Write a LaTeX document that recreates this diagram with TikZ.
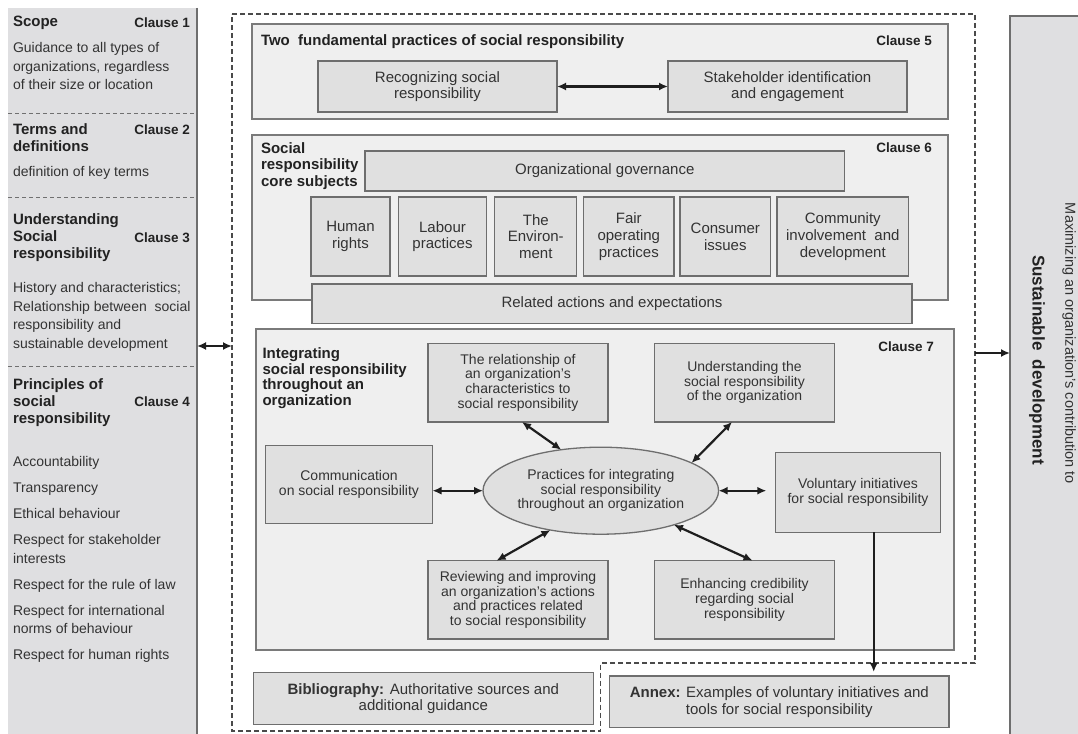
\documentclass[tikz,border=0pt]{standalone}
\usepackage{fontspec}
\setmainfont{Liberation Sans}
\usetikzlibrary{arrows.meta,shapes.geometric,calc}
\definecolor{leftbg}{HTML}{DFDFE1}
\definecolor{outerbg}{HTML}{EFEFEF}
\definecolor{innerbg}{HTML}{E0E0E0}
\definecolor{bordo}{HTML}{7A7A7A}
\definecolor{bordi}{HTML}{6E6E6E}
\definecolor{txt}{HTML}{333333}
\definecolor{ttxt}{HTML}{222222}
\definecolor{arrc}{HTML}{1E1E1E}
\definecolor{sepc}{HTML}{707070}
\definecolor{dashc}{HTML}{4A4A4A}
\newcommand{\myLB}{\fontsize{14}{18.5}\selectfont}
\newcommand{\myLT}{\fontsize{15}{17}\selectfont\bfseries}
\newcommand{\myCl}{\fontsize{13.5}{16}\selectfont\bfseries}
\newcommand{\myC}{\fontsize{15}{16.7}\selectfont}
\newcommand{\myCT}{\fontsize{15}{16.2}\selectfont\bfseries}
\newcommand{\myS}{\fontsize{14}{14.6}\selectfont}
\newcommand{\myRa}{\fontsize{14.5}{16}\selectfont}
\newcommand{\myRb}{\fontsize{17}{19}\selectfont\bfseries}
\begin{document}
\begin{tikzpicture}[x=1pt,y=-1pt,
  every node/.style={inner sep=0pt, outer sep=0pt, text=txt},
  panel/.style={draw=bordo, fill=outerbg, line width=1.4pt},
  ibox/.style={draw=bordi, fill=innerbg, line width=1.3pt, align=center, font=\myC},
  sbox/.style={ibox, font=\myS},
  ttl/.style={font=\myCT, text=ttxt, align=left, anchor=north west},
  lttl/.style={font=\myLT, text=ttxt, align=left, anchor=north west},
  lbody/.style={font=\myLB, align=left, anchor=north west},
  clause/.style={font=\myCl, text=ttxt, anchor=base east},
  dbl/.style={{Latex[length=9pt,width=8pt]}-{Latex[length=9pt,width=8pt]}, line width=2.2pt, draw=arrc},
  sgl/.style={-{Latex[length=9pt,width=8pt]}, line width=2.2pt, draw=arrc},
  sepline/.style={draw=sepc, line width=0.9pt, dash pattern=on 4pt off 3pt},
  outline/.style={draw=dashc, line width=1.4pt, dash pattern=on 5pt off 3pt},
]
\fill[white] (0,0) rectangle (1078,733);
\useasboundingbox (0,0) rectangle (1078,733);

% ---------- left panel ----------
\node[fill=leftbg, minimum width=189pt, minimum height=745pt, anchor=north west] (left) at (8,8) {};
\draw[draw=bordi, line width=1.6pt] (left.north east) -- (left.south east);
\draw[sepline] (8,113) -- (197,113);
\draw[sepline] (8,197) -- (197,197);
\draw[sepline] (8,366) -- (197,366);

\node[lttl] (scope) at (13,16.5) {Scope};
\node[clause] (cl1) at (190,27.5) {Clause 1};
\node[lbody] (scopetx) at (13,42.8) {Guidance to all types of\\organizations, regardless\\of their size or location};

\node[lttl] (terms) at (13,123.5) {Terms and\\definitions};
\node[clause] (cl2) at (190,135) {Clause 2};
\node[lbody] (termstx) at (13,166.8) {definition of key terms};

\node[lttl] (under) at (13,213.5) {Understanding\\Social\\responsibility};
\node[clause] (cl3) at (190,242) {Clause 3};
\node[lbody] (undertx) at (13,282.8) {History and characteristics;\\Relationship between\ \ social\\responsibility and\\sustainable development};

\node[lttl] (princ) at (13,379) {Principles of\\social\\responsibility};
\node[clause] (cl4) at (190,406) {Clause 4};
\node[lbody] (princtx) at (13,456.8) {Accountability\\[7.5pt]Transparency\\[7.5pt]Ethical behaviour\\[7.5pt]Respect for stakeholder\\interests\\[7.5pt]Respect for the rule of law\\[7.5pt]Respect for international\\norms of behaviour\\[7.5pt]Respect for human rights};

% ---------- right panel ----------
\node[fill=leftbg, draw=bordi, line width=1.3pt, minimum width=80pt, minimum height=735pt, anchor=north west] (right) at (1010,16) {};
\node[rotate=-90, font=\myRa] (maxt) at (1069,343.5) {Maximizing an organization's contribution to};
\node[rotate=-90, font=\myRb, text=ttxt] (sust) at (1037,360) {Sustainable\ \ development};

% ---------- dashed outline ----------
\draw[outline] (232,14) -- (975,14) -- (975,663) -- (600.6,663) -- (600.6,731) -- (232,731) -- cycle;
\coordinate (dL) at (232,346);
\coordinate (dR) at (975,353);

% ---------- clause 5 ----------
\node[panel, minimum width=696pt, minimum height=95pt] (c5) at (600,71.5) {};
\node[ttl] (c5t) at (261,34.5) {Two\ \ fundamental practices of social responsibility};
\node[clause] (cl5) at (932,46) {Clause 5};
\node[ibox, minimum width=239pt, minimum height=51pt] (recog) at (437.5,86.5) {Recognizing social\\responsibility};
\node[ibox, minimum width=239pt, minimum height=51pt] (stake) at (787.5,86.5) {Stakeholder identification\\and engagement};

% ---------- clause 6 ----------
\node[panel, minimum width=696pt, minimum height=165pt] (c6) at (600,217.5) {};
\node[ttl, font=\fontsize{15}{16.4}\selectfont\bfseries] (c6t) at (261,142.7) {Social\\responsibility\\core subjects};
\node[clause] (cl6) at (932,153) {Clause 6};
\node[ibox, minimum width=479.5pt, minimum height=40pt] (orggov) at (604.75,171) {Organizational governance};
\node[ibox, minimum width=79pt, minimum height=79pt] (human) at (350.5,236.5) {Human\\rights};
\node[ibox, minimum width=88pt, minimum height=79pt] (labour) at (442.5,236.5) {Labour\\practices};
\node[ibox, minimum width=82pt, minimum height=79pt] (env) at (535.8,236.5) {The\\Environ-\\ment};
\node[ibox, minimum width=90.4pt, minimum height=79pt] (fair) at (628.8,236.5) {Fair\\operating\\practices};
\node[ibox, minimum width=90.6pt, minimum height=79pt] (cons) at (725.3,236.5) {Consumer\\issues};
\node[ibox, minimum width=131.7pt, minimum height=79pt] (comm6) at (842.8,236.5) {Community\\involvement\ \ and\\development};
\node[ibox, minimum width=600pt, minimum height=39.3pt] (related) at (612,303.6) {Related actions and expectations};

% ---------- clause 7 ----------
\node[panel, minimum width=698pt, minimum height=321pt] (c7) at (605,489.5) {};
\node[ttl, font=\fontsize{15}{15.6}\selectfont\bfseries] (c7t) at (262.5,347.8) {Integrating\\social responsibility\\throughout an\\organization};
\node[clause] (cl7) at (934,351) {Clause 7};
\node[sbox, minimum width=180pt, minimum height=78.7pt] (relation) at (518,382.6) {The relationship of\\an organization's\\characteristics to\\social responsibility};
\node[sbox, minimum width=180pt, minimum height=78.7pt] (underst) at (744.5,382.6) {Understanding the\\social responsibility\\of the organization};
\node[sbox, minimum width=167pt, minimum height=78pt] (comm) at (349,484.3) {Communication\\on social responsibility};
\node[ellipse, draw=bordi, fill=innerbg, line width=1.3pt, minimum width=212pt, minimum height=87pt, align=center, font=\myS] (ell) at (600.8,490.7) {Practices for integrating\\social responsibility\\throughout an organization};
\node[sbox, minimum width=165.3pt, minimum height=79.6pt] (volunt) at (858,492.5) {Voluntary initiatives\\for social responsibility};
\node[sbox, minimum width=180pt, minimum height=78.3pt] (review) at (518,599.8) {Reviewing and improving\\an organization's actions\\and practices related\\to social responsibility};
\node[sbox, minimum width=180pt, minimum height=78.3pt] (enhance) at (744.5,599.8) {Enhancing credibility\\regarding social\\responsibility};

% ---------- bottom ----------
\node[ibox, minimum width=339.8pt, minimum height=51.6pt] (biblio) at (423.3,698.5) {\textbf{Bibliography:} Authoritative sources and\\additional guidance};
\node[ibox, minimum width=339.4pt, minimum height=51.7pt] (annex) at (779.3,701.8) {\textbf{Annex:} Examples of voluntary initiatives and\\tools for social responsibility};

% ---------- connectors ----------
\coordinate (vs) at ($(volunt.south)+(15.7,0)$);
\draw[dbl] (recog.east) -- (stake.west);
\draw[dbl] ($(relation.south)+(4,0)$) -- (ell.134);
\draw[dbl] ($(underst.south)+(-12.5,0)$) -- (ell.17);
\draw[dbl] (comm.east |- ell.west) -- (ell.west);
\draw[dbl, shorten >=9pt] (ell.east) -- (ell.east -| volunt.west);
\draw[dbl] ($(review.north)+(-21.4,0)$) -- (ell.218);
\draw[dbl] ($(enhance.north)+(8,0)$) -- (ell.335);
\draw[sgl, shorten >=4pt] (vs) -- (vs |- annex.north);
\draw[dbl] (left.east |- dL) -- (dL);
\draw[sgl] (dR) -- (dR -| right.west);
\end{tikzpicture}
\end{document}
